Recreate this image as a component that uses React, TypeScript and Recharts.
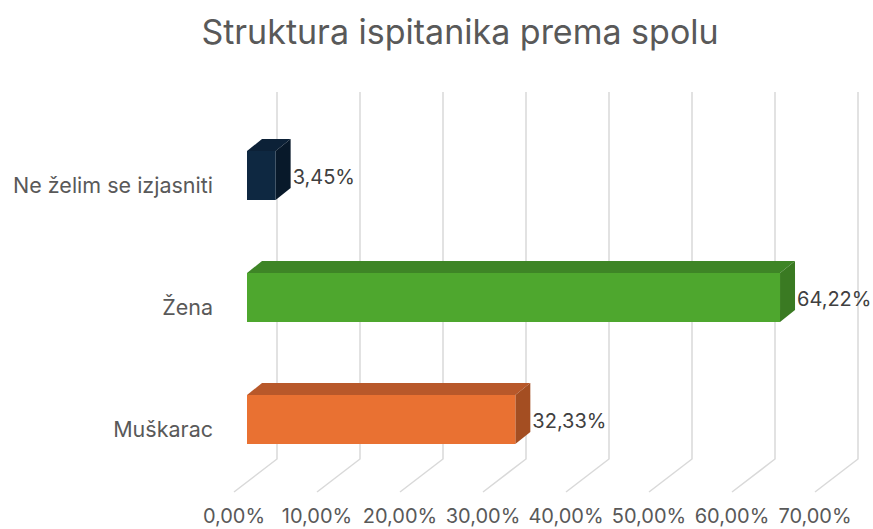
import React from 'react';
import { BarChart, Bar, XAxis, YAxis, CartesianGrid, LabelList } from 'recharts';

const categories = ['Ne želim se izjasniti', 'Žena', 'Muškarac'];
const shares = [3.45, 64.22, 32.33];
const tickValues = [0, 10, 20, 30, 40, 50, 60, 70];

const FONT = 'Inter, "Liberation Sans", sans-serif';
const DX = 15;
const DY = -12;

const colors: Record<string, { front: string; top: string; side: string }> = {
  'Ne želim se izjasniti': { front: '#0E2841', top: '#0C2137', side: '#08192A' },
  'Žena': { front: '#4EA72E', top: '#3E8526', side: '#3A7A22' },
  'Muškarac': { front: '#E97132', top: '#B8582A', side: '#A44E22' },
};

const data = categories.map((name, i) => ({ name, value: shares[i] }));

const fmt = (v: number) => v.toFixed(2).replace('.', ',') + '%';

const Bar3D = (props: any) => {
  const { x, y, width, height, payload } = props;
  const c = colors[payload.name];
  return (
    <g>
      <polygon
        points={`${x},${y} ${x + DX},${y + DY} ${x + width + DX},${y + DY} ${x + width},${y}`}
        fill={c.top}
      />
      <polygon
        points={`${x + width},${y} ${x + width + DX},${y + DY} ${x + width + DX},${y + height + DY} ${x + width},${y + height}`}
        fill={c.side}
      />
      <rect x={x} y={y} width={width} height={height} fill={c.front} />
    </g>
  );
};

const gridLine = (props: any) => {
  const { x1, y1, y2, key } = props;
  return (
    <g key={key}>
      <polyline
        points={`${x1 + 30},${y1 - 22} ${x1 + 30},${y2 - 21} ${x1 - 13},${y2 + 12}`}
        fill="none"
        stroke="#D9D9D9"
        strokeWidth={1.5}
      />
    </g>
  );
};

const XTick = (props: any) => {
  const { x, payload } = props;
  return (
    <text x={x - 13} y={516} textAnchor="middle" dominantBaseline="central" fill="#595959" fontSize={20} fontFamily={FONT}>
      {fmt(payload.value)}
    </text>
  );
};

const YTick = (props: any) => {
  const { y, payload } = props;
  return (
    <text x={213} y={y + 10} textAnchor="end" dominantBaseline="central" fill="#595959" fontSize={21.5} fontFamily={FONT}>
      {payload.value}
    </text>
  );
};

const ValueLabel = (props: any) => {
  const { x, y, width, height, value } = props;
  return (
    <text x={x + width + DX + 2} y={y + height / 2 + 1} dominantBaseline="central" fill="#404040" fontSize={20} fontFamily={FONT}>
      {fmt(value)}
    </text>
  );
};

export default function App() {
  return (
    <div style={{ position: 'absolute', left: 0, top: 0, width: 873, height: 529, background: '#fff' }}>
      <div
        style={{
          position: 'absolute',
          left: 0,
          width: 920,
          top: 11,
          textAlign: 'center',
          fontFamily: FONT,
          fontSize: 34,
          color: '#595959',
        }}
      >
        Struktura ispitanika prema spolu
      </div>
      <BarChart
        width={873}
        height={529}
        data={data}
        layout="vertical"
        margin={{ top: 114, right: 45, left: 0, bottom: 8 }}
      >
        <CartesianGrid horizontal={false} vertical={gridLine} />
        <XAxis
          type="number"
          domain={[0, 70]}
          ticks={tickValues}
          height={41}
          axisLine={false}
          tickLine={false}
          tick={<XTick />}
        />
        <YAxis
          type="category"
          dataKey="name"
          width={247}
          axisLine={false}
          tickLine={false}
          tick={<YTick />}
        />
        <Bar dataKey="value" barSize={49} shape={<Bar3D />} isAnimationActive={false}>
          <LabelList dataKey="value" content={<ValueLabel />} />
        </Bar>
      </BarChart>
    </div>
  );
}
